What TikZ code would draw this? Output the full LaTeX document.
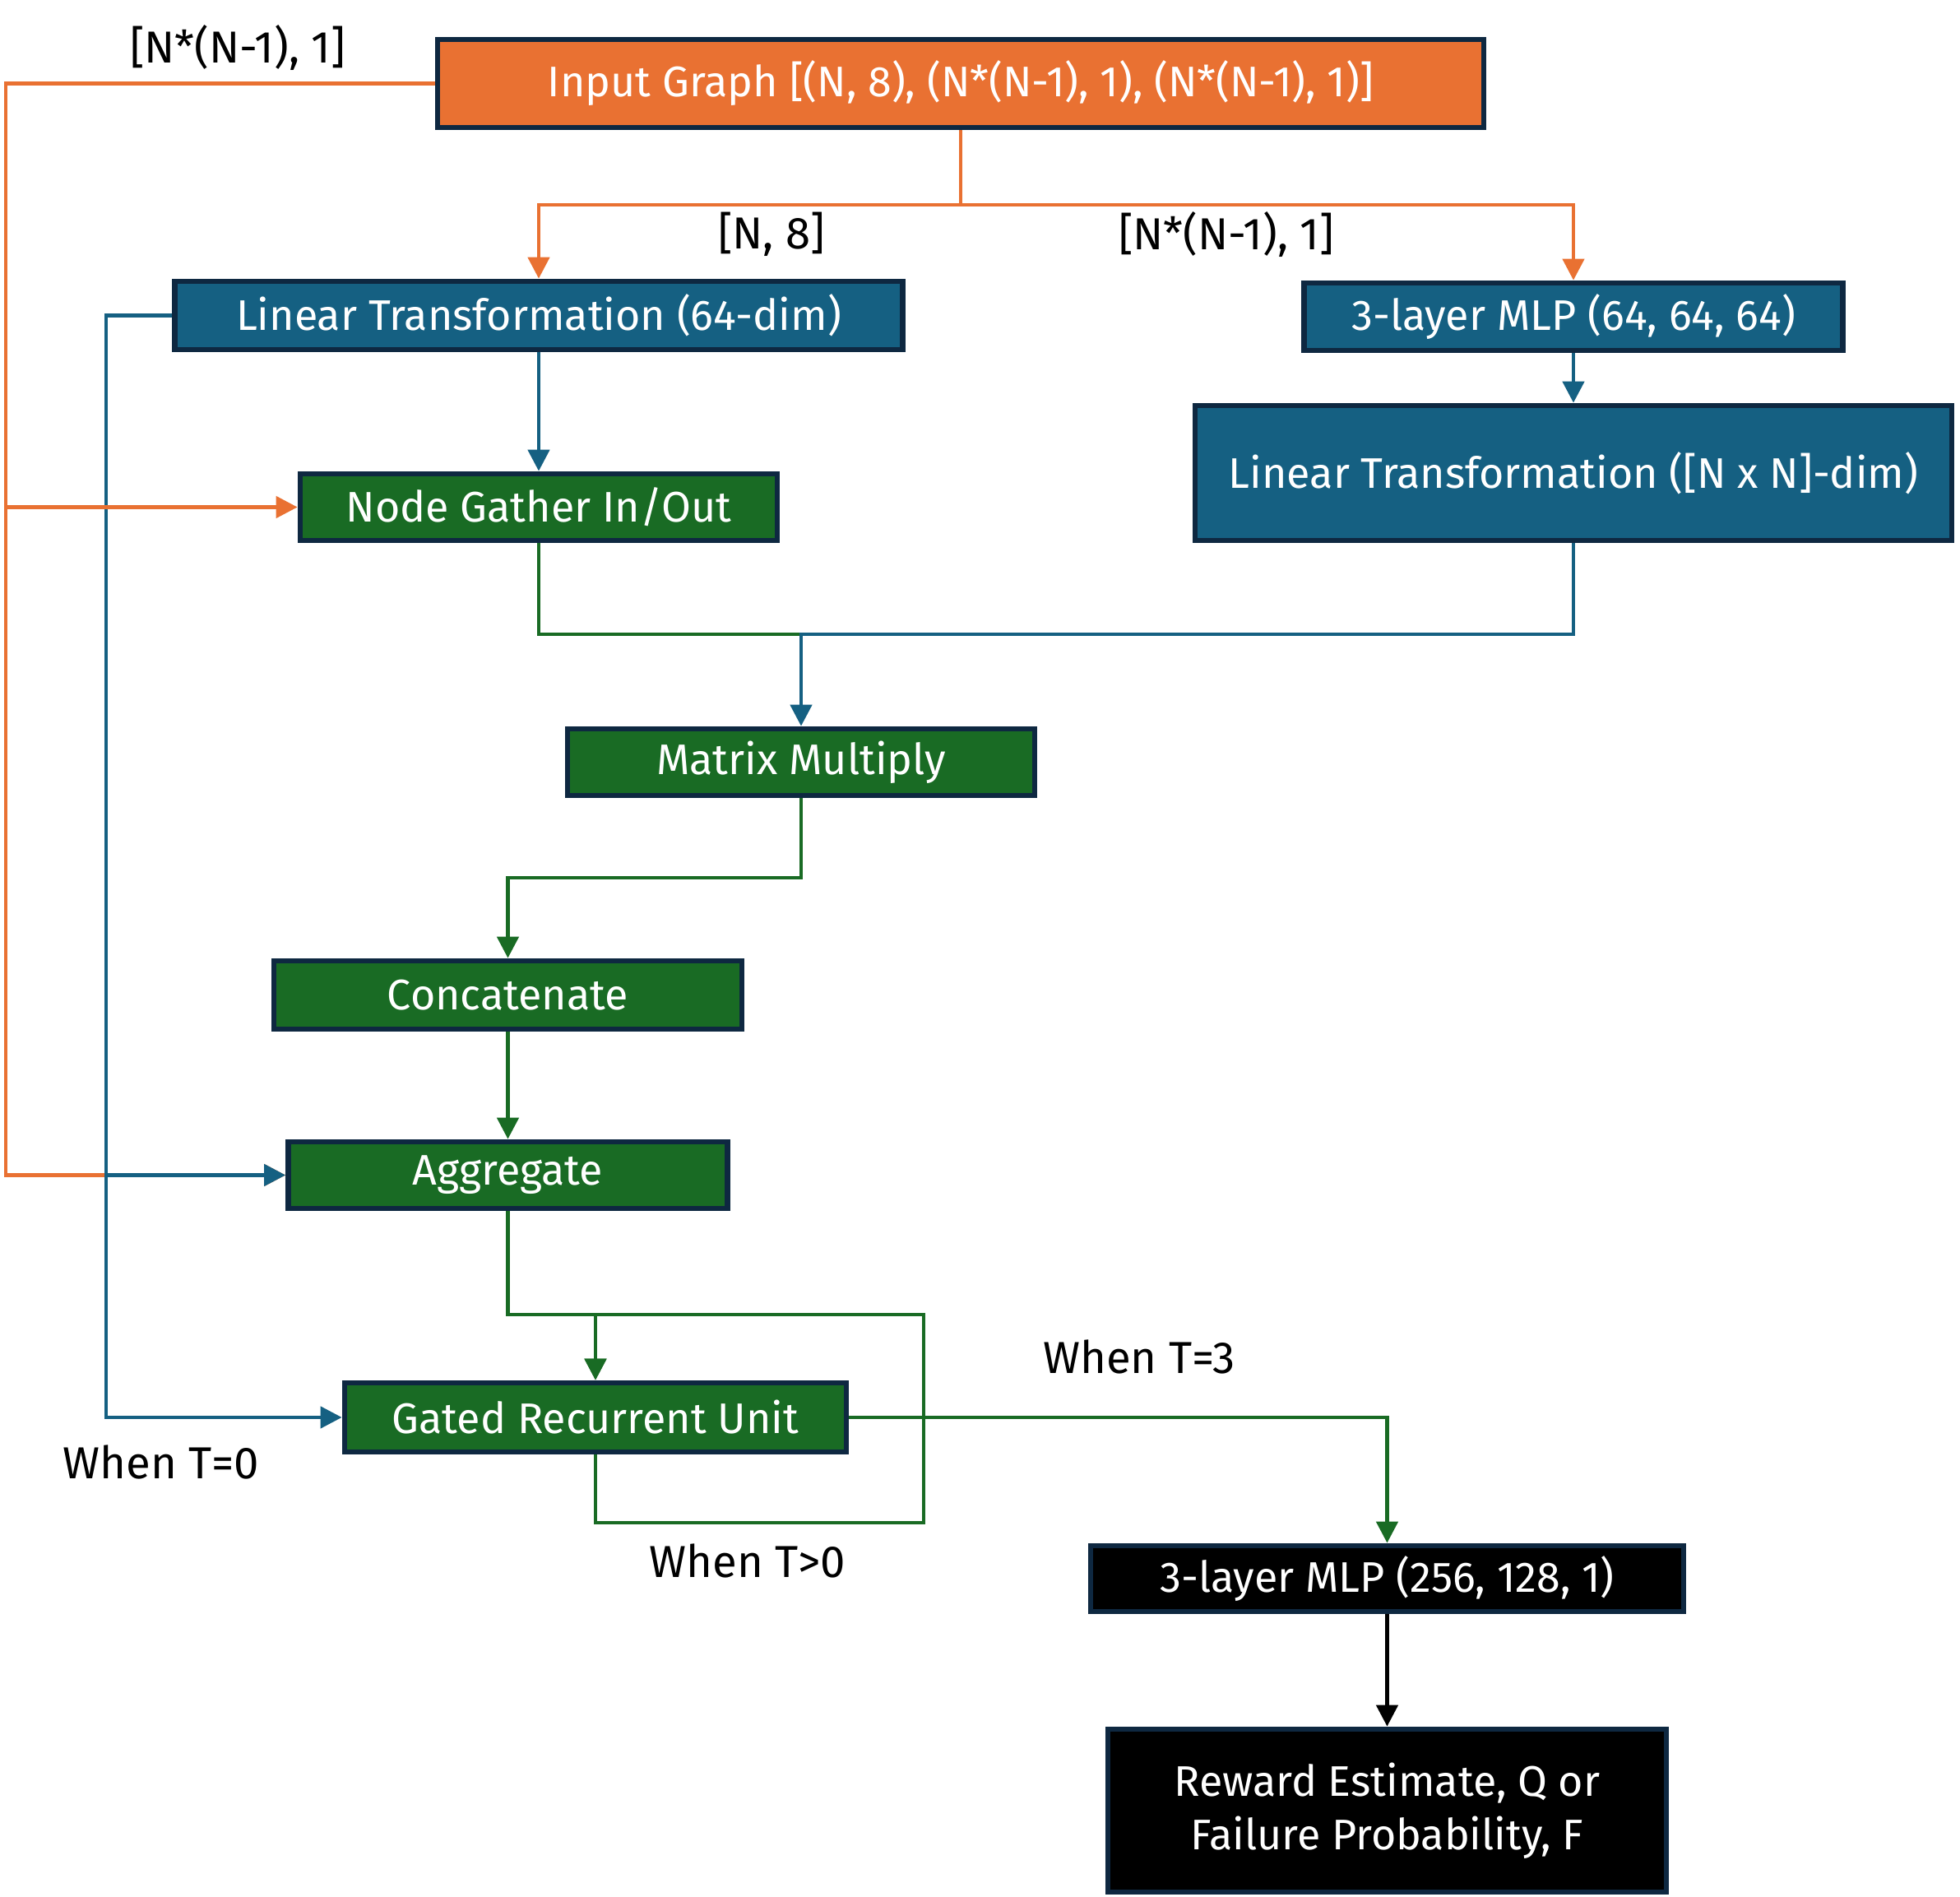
\documentclass[tikz,border=0pt]{standalone}
\usepackage{xcolor}
\usepackage{fontspec}
\setmainfont{Fira Sans}
\usepackage{tikz}
\usetikzlibrary{arrows.meta}

\definecolor{inorange}{HTML}{E97132}
\definecolor{layblue}{HTML}{156082}
\definecolor{opgreen}{HTML}{196B24}
\definecolor{edgenavy}{HTML}{0E2841}

\begin{document}
\begin{tikzpicture}[
  blockbase/.style={draw=edgenavy, line width=1.9pt, text=white, inner sep=0pt, align=center,
    font=\fontsize{14.8}{18.6}\selectfont},
  ingraph/.style={blockbase, fill=inorange},
  layerbox/.style={blockbase, fill=layblue},
  opbox/.style={blockbase, fill=opgreen},
  outbox/.style={blockbase, fill=black},
  dimlabel/.style={font=\fontsize{15.5}{18}\selectfont, text=black},
  flow/.style={line width=1.3pt, -{Triangle[length=2.6mm, width=2.6mm]}},
  orangeflow/.style={flow, draw=inorange},
  blueflow/.style={flow, draw=layblue},
  greenflow/.style={flow, draw=opgreen},
  blackflow/.style={flow, draw=black}
]
\useasboundingbox (0,0) rectangle (23.83,23.05);

% boxes
\node[ingraph, minimum width=12.72cm, minimum height=1.07cm] (input) at (11.68,22.035) {Input Graph [(N, 8), (N*(N-1), 1), (N*(N-1), 1)]};

\node[layerbox, minimum width=8.85cm, minimum height=0.83cm] (lin64) at (6.55,19.215) {Linear Transformation (64-dim)};
\node[layerbox, minimum width=6.55cm, minimum height=0.82cm] (mlp64) at (19.13,19.20) {3-layer MLP (64, 64, 64)};
\node[layerbox, minimum width=9.20cm, minimum height=1.64cm] (linNN) at (19.13,17.30) {Linear Transformation ([N x N]-dim)};

\node[opbox, minimum width=5.80cm, minimum height=0.81cm] (gather) at (6.55,16.885) {Node Gather In/Out};
\node[opbox, minimum width=5.68cm, minimum height=0.81cm] (matmul) at (9.74,13.785) {Matrix Multiply};
\node[opbox, minimum width=5.69cm, minimum height=0.83cm] (concat) at (6.175,10.955) {Concatenate};
\node[opbox, minimum width=5.34cm, minimum height=0.81cm] (aggr) at (6.175,8.765) {Aggregate};
\node[opbox, minimum width=6.10cm, minimum height=0.84cm] (gru) at (7.24,5.82) {Gated Recurrent Unit};

\node[outbox, minimum width=7.21cm, minimum height=0.80cm] (mlp2) at (16.865,3.86) {3-layer MLP (256, 128, 1)};
\node[outbox, minimum width=6.79cm, minimum height=1.98cm] (reward) at (16.865,1.04) {Reward Estimate, Q or\\Failure Probability, F};

% labels
\node[dimlabel] (lblEdge) at (2.89,22.47) {[N*(N-1), 1]};
\node[dimlabel] (lblNode) at (9.38,20.20) {[N, 8]};
\node[dimlabel] (lblPair) at (14.91,20.20) {[N*(N-1), 1]};
\node[dimlabel] (lblZero) at (1.96,5.28) {When T=0};
\node[dimlabel] (lblLoop) at (9.09,4.08) {When T>0};
\node[dimlabel] (lblLast) at (13.85,6.56) {When T=3};

% bus lines
\coordinate (otrunk) at (0.07,0);
\coordinate (btrunk) at (1.29,0);
\coordinate (obus) at (0,20.56);
\coordinate (mbus) at (0,15.34);
\coordinate (cbus) at (0,12.38);
\coordinate (gbus) at (0,7.07);
\coordinate (lbus) at (0,4.54);
\coordinate (loopx) at (11.23,0);

% input graph
\draw[orangeflow] (input.west) -| (otrunk |- aggr.west) -- (aggr.west);
\draw[orangeflow] (input.south) -- (input.south |- obus) -| (lin64.north);
\draw[orangeflow] (input.south) -- (input.south |- obus) -| (mlp64.north);

% node and edge embeddings
\draw[blueflow] (lin64.west) -| (btrunk |- gru.west) -- (gru.west);
\draw[blueflow] (lin64.west) -| (btrunk |- aggr.west) -- (aggr.west);
\draw[orangeflow] (input.west) -| (otrunk |- gather.west) -- (gather.west);
\draw[blueflow] (lin64) -- (gather);
\draw[blueflow] (mlp64) -- (linNN);

% message passing
\draw[greenflow, -] (gather.south) |- (matmul.north |- mbus);
\draw[blueflow] (linNN.south) |- (matmul.north |- mbus) -- (matmul.north);
\draw[greenflow] (matmul.south) -- (matmul.south |- cbus) -| (concat.north);
\draw[greenflow] (concat) -- (aggr);
\draw[greenflow] (aggr.south) -- (aggr.south |- gbus) -| (gru.north);
\draw[greenflow] (gru.south) -- (gru.south |- lbus) -| (loopx |- gbus) -| (gru.north);

% readout
\draw[greenflow] (gru.east) -| (mlp2.north);
\draw[blackflow] (mlp2) -- (reward);

\end{tikzpicture}
\end{document}
